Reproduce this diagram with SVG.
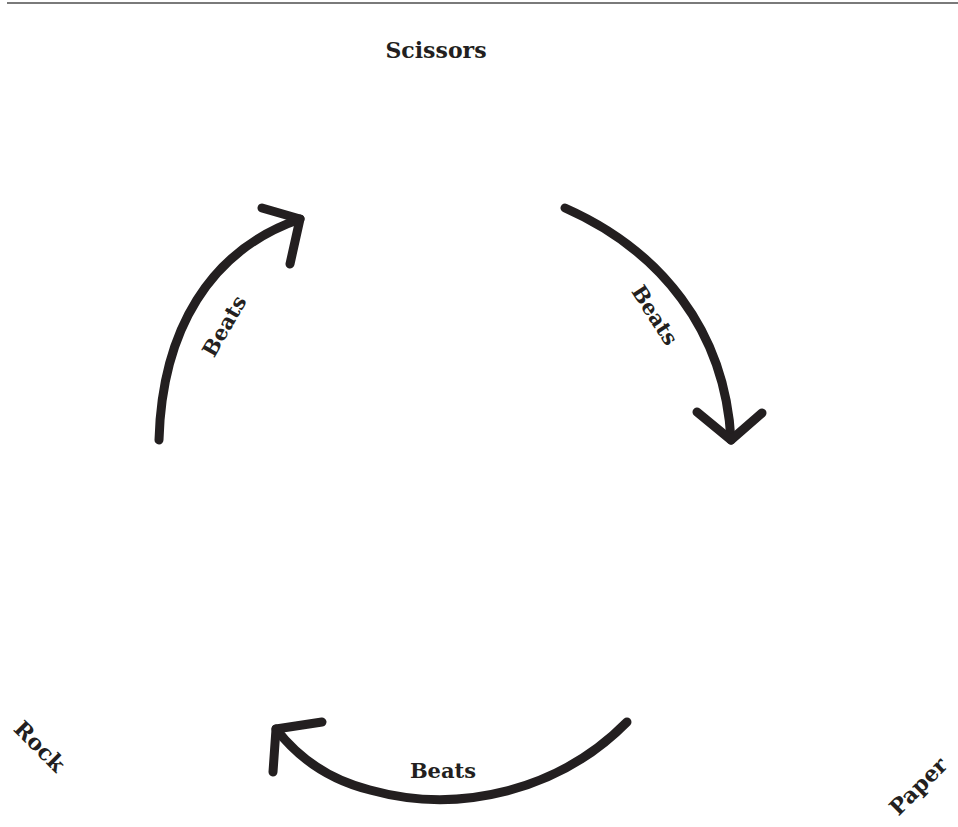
<svg xmlns="http://www.w3.org/2000/svg" width="958" height="827" viewBox="0 0 958 827">
<style>
.lbl{font-family:"DejaVu Serif","Liberation Serif",serif;font-weight:bold;fill:#231f20;text-anchor:middle;dominant-baseline:central}
.node{font-size:22px}
.edge{font-size:21px}
.arc{fill:none;stroke:#231f20;stroke-width:9;stroke-linecap:round;stroke-linejoin:round}
</style>
<rect width="958" height="827" fill="#fff"/>
<line x1="7" y1="3" x2="958" y2="3" stroke="#7a7a7a" stroke-width="2"/>
<g id="scissors"><text class="lbl node" x="436" y="50">Scissors</text></g>
<g id="rock"><text class="lbl node" transform="translate(40,746) rotate(45)">Rock</text></g>
<g id="paper"><text class="lbl node" transform="translate(918,786) rotate(-45)">Paper</text></g>
<g id="connectors">
<g id="rock-scissors">
<path class="arc" d="M159 440 C162 330 210 250 300 219"/>
<path class="arc" d="M262 208 L300 219 L290 264"/>
<text class="lbl edge" transform="translate(224,326) rotate(-60)">Beats</text>
</g>
<g id="scissors-paper">
<path class="arc" d="M565 208 C660 250 725 330 731 440"/>
<path class="arc" d="M697 412 L731 440 L762 413"/>
<text class="lbl edge" transform="translate(655,315) rotate(57)">Beats</text>
</g>
<g id="paper-rock">
<path class="arc" d="M627 722 C560 790 460 815 370 790 C330 780 300 760 276 729"/>
<path class="arc" d="M322 722 L276 729 L273 772"/>
<text class="lbl edge" x="443" y="770">Beats</text>
</g>
</g>
</svg>
